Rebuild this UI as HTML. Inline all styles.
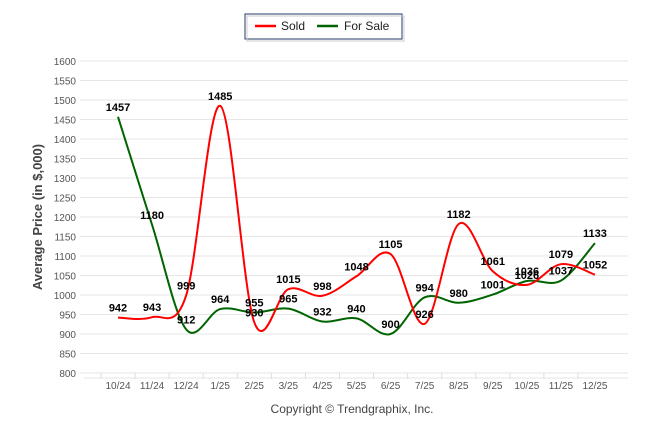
<!DOCTYPE html>
<html><head><meta charset="utf-8"><style>
body{margin:0;background:#fff;font-family:"Liberation Sans",sans-serif}
svg text{font-family:"Liberation Sans",sans-serif}
</style></head><body>
<svg width="646" height="434">
<g id="grid"></g>
<g>
<rect x="245" y="14" width="157" height="25" fill="#fff" stroke="#1f3864" stroke-width="1"/>
<rect x="247" y="16" width="157" height="25" fill="none" stroke="#ccc" stroke-width="1"/>
<line x1="255" y1="26" x2="276" y2="26" stroke="#f00" stroke-width="2.5"/>
<text x="281" y="30" font-size="12" fill="#222">Sold</text>
<line x1="317" y1="26" x2="338" y2="26" stroke="#006400" stroke-width="2.5"/>
<text x="344" y="30" font-size="12" fill="#222">For Sale</text>
</g>
<text transform="translate(42,217) rotate(-90)" text-anchor="middle" font-size="13" font-weight="bold" fill="#444">Average Price (in $,000)</text>
<text x="352" y="413" text-anchor="middle" font-size="12" fill="#444">Copyright © Trendgraphix, Inc.</text>
<g id="series"></g>
<g id="labels"></g>
</svg>
<script>
const categories=["10/24","11/24","12/24","1/25","2/25","3/25","4/25","5/25","6/25","7/25","8/25","9/25","10/25","11/25","12/25"];
const soldValues=[942,943,999,1485,930,1015,998,1048,1105,926,1182,1061,1026,1079,1052];
const saleValues=[1457,1180,912,964,955,965,932,940,900,994,980,1001,1036,1037,1133];
const yTicks=[800,850,900,950,1000,1050,1100,1150,1200,1250,1300,1350,1400,1450,1500,1550,1600];
const NS="http://www.w3.org/2000/svg";
const x=i=>118+i*34.07;
const y=v=>373-(v-800)*(312/800);
function mk(t,a,p){const e=document.createElementNS(NS,t);for(const k in a)e.setAttribute(k,a[k]);p.appendChild(e);return e;}
const grid=document.getElementById('grid');
yTicks.forEach(v=>{
 const l=mk('line',{x1:80,x2:628,y1:y(v),y2:y(v),stroke:'#e6e6e6'},grid);
 
 
 const t=mk('text',{x:76,y:y(v)+4,'text-anchor':'end','font-size':10,fill:'#555'},grid);
 t.textContent=v;
 
 
});
mk('line',{x1:84,x2:628,y1:378,y2:378,stroke:'#e6e6e6'},grid);
categories.forEach((c,i)=>{
 mk('line',{x1:x(i)-17,x2:x(i)-17,y1:373,y2:379,stroke:'#ddd'},grid);
 const t=mk('text',{x:x(i),y:389,'text-anchor':'middle','font-size':10,fill:'#555'},grid);
 t.textContent=c;
 
 
});
function path(vals){
 const p=vals.map((v,i)=>[x(i),y(v)]);
 let d='M'+p[0][0]+','+p[0][1];const t=0.5;
 for(let i=0;i<p.length-1;i++){
  const p0=p[i-1]||p[i],p1=p[i],p2=p[i+1],p3=p[i+2]||p2;
  const c1=[p1[0]+(p2[0]-p0[0])*t/3,p1[1]+(p2[1]-p0[1])*t/3];
  const c2=[p2[0]-(p3[0]-p1[0])*t/3,p2[1]-(p3[1]-p1[1])*t/3];
  d+=' C'+c1+' '+c2+' '+p2;
 }
 return d;
}
const s=document.getElementById('series'),lb=document.getElementById('labels');
[[saleValues,'#006400','for-sale'],[soldValues,'#f00','sold']].forEach(([vals,col,n])=>{
 const e=mk('path',{d:path(vals),fill:'none',stroke:col,'stroke-width':2},s);
 
 
 vals.forEach((v,i)=>{
  const t=mk('text',{x:x(i),y:y(v)-6,'text-anchor':'middle','font-size':11,'font-weight':'bold',fill:'#000'},lb);
  t.textContent=v;
  
  
 });
});
</script>
</body></html>
